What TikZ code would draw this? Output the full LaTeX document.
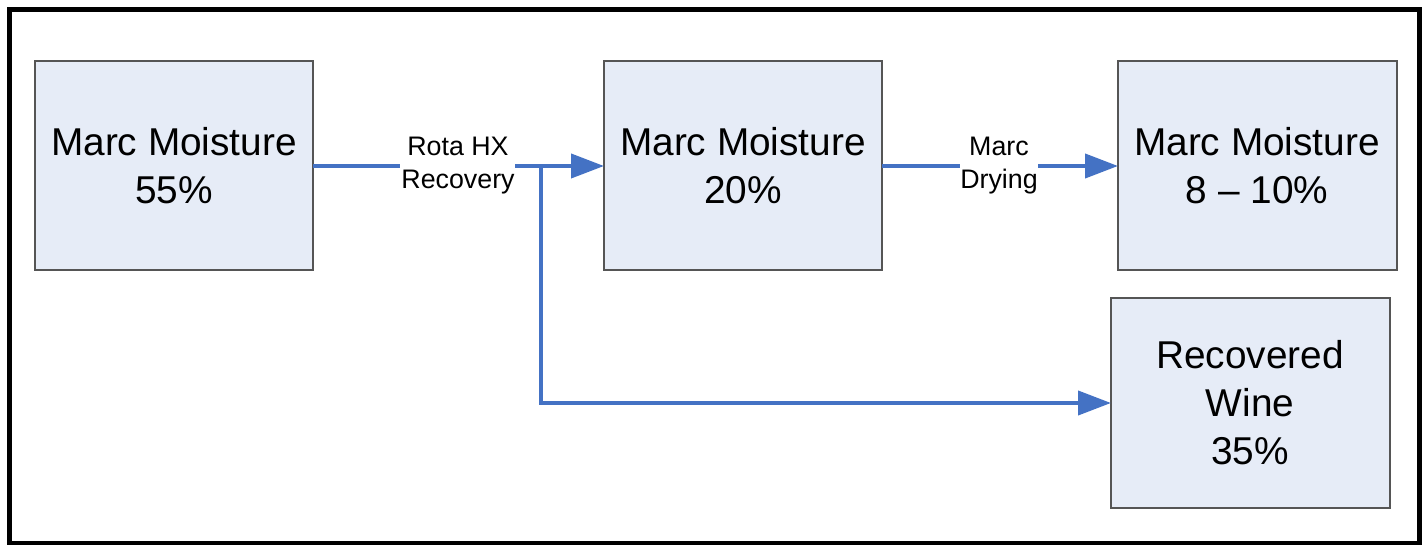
\documentclass[tikz,border=0pt]{standalone}
\usepackage{fontspec}
\setmainfont{Liberation Sans}
\usetikzlibrary{arrows.meta}
\definecolor{boxfill}{RGB}{230,236,247}
\definecolor{boxline}{RGB}{85,85,85}
\definecolor{flow}{RGB}{68,114,196}
\tikzset{
  stage/.style={draw=boxline, line width=2pt, fill=boxfill},
  stagetext/.style={align=center, font=\fontsize{38.8pt}{48pt}\selectfont, inner sep=0pt},
  flowline/.style={draw=flow, line width=4pt},
  flowarrow/.style={flowline, -{Triangle[length=33pt,width=24pt]}},
  flowlabel/.style={align=center, font=\fontsize{26.8pt}{33pt}\selectfont, inner sep=0pt}
}
\begin{document}
\begin{tikzpicture}[x=1pt,y=-1pt]
\useasboundingbox (0,0) rectangle (1426,545);
\draw[line width=5pt] (9,10) rectangle (1419,543);
% boxes
\draw[stage] (35,61) rectangle (313,270);
\coordinate (b1r) at (313,166);
\node[stagetext] (t1) at (174,166) {Marc Moisture\\55\%};
\draw[stage] (604,61) rectangle (882,270);
\coordinate (b2l) at (604,166);
\coordinate (b2r) at (882,166);
\node[stagetext] (t2) at (743,166) {Marc Moisture\\20\%};
\draw[stage] (1118,61) rectangle (1397,270);
\coordinate (b3l) at (1118,166);
\node[stagetext] (t3) at (1257,166) {Marc Moisture\\8 – 10\%};
\draw[stage] (1111,298) rectangle (1390,508);
\coordinate (b4l) at (1111,403);
\node[stagetext] (t4) at (1250,403) {Recovered\\Wine\\35\%};
% labels
\node[flowlabel] (l1) at (458,166) {Rota HX\\Recovery};
\node[flowlabel] (l2) at (999,166) {Marc\\Drying};
\coordinate (g1a) at (400,166);
\coordinate (g1b) at (515,166);
\coordinate (br) at (541,166);
\coordinate (g2a) at (960,166);
\coordinate (g2b) at (1038,166);
% connectors
\draw[flowline] (b1r) -- (g1a);
\draw[flowarrow] (g1b) -- (b2l);
\draw[flowline] (b2r) -- (g2a);
\draw[flowarrow] (g2b) -- (b3l);
\draw[flowarrow] (br) |- (b4l);
\end{tikzpicture}
\end{document}
